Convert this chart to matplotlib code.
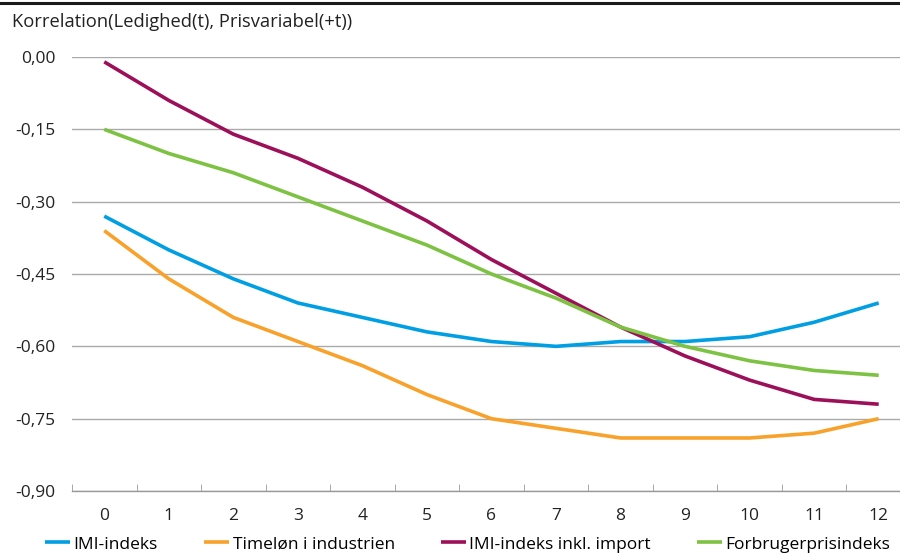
import matplotlib.pyplot as plt
from matplotlib.lines import Line2D

# Lag (kvartaler)
lags = list(range(13))

imi = [-0.33, -0.40, -0.46, -0.51, -0.54, -0.57, -0.59, -0.60, -0.59, -0.59, -0.58, -0.55, -0.51]
timeloen = [-0.36, -0.46, -0.54, -0.59, -0.64, -0.70, -0.75, -0.77, -0.79, -0.79, -0.79, -0.78, -0.75]
imi_import = [-0.01, -0.09, -0.16, -0.21, -0.27, -0.34, -0.42, -0.49, -0.56, -0.62, -0.67, -0.71, -0.72]
fpi = [-0.15, -0.20, -0.24, -0.29, -0.34, -0.39, -0.45, -0.50, -0.56, -0.60, -0.63, -0.65, -0.66]

labels = ['IMI-indeks', 'Timeløn i industrien', 'IMI-indeks inkl. import', 'Forbrugerprisindeks']
colors = ['#009fe3', '#f8a12b', '#9c1059', '#7dc242']
yticks = [0.0, -0.15, -0.30, -0.45, -0.60, -0.75, -0.90]

plt.rcParams['font.family'] = ['Open Sans', 'DejaVu Sans']
fs = 12.5

fig = plt.figure(figsize=(9.0, 5.59), dpi=100)
ax = fig.add_axes([0.08, 0.1216, 0.92, 0.7764])

for ys, c, lab in zip([imi, timeloen, imi_import, fpi], colors, labels):
    ax.plot(lags, ys, color=c, lw=2.6, label=lab, solid_capstyle='butt')

ax.set_xlim(-0.5, 12.33)
ax.set_ylim(-0.90, 0.0)
ax.set_yticks(yticks)
ax.set_yticklabels([f'{v:.2f}'.replace('.', ',') for v in yticks])
ax.set_xticks(lags)
ax.set_xticks([x + 0.5 for x in range(-1, 12)], minor=True)
ax.tick_params(axis='y', length=0, pad=12, labelsize=fs, colors='#222222')
ax.tick_params(axis='x', which='major', length=0, pad=12, labelsize=fs, colors='#222222')
ax.tick_params(axis='x', which='minor', direction='in', length=5, color='#999999')
ax.grid(axis='y', color='#aaaaaa', lw=1.0)
ax.set_axisbelow(True)
for s in ['top', 'right', 'left']:
    ax.spines[s].set_visible(False)
ax.spines['bottom'].set_color('#999999')
ax.spines['bottom'].set_linewidth(1.0)
ax.spines['bottom'].set_zorder(0)

fig.text(0.013, 0.961, 'Korrelation(Ledighed(t), Prisvariabel(+t))',
         fontsize=13.2, color='#222222', va='center', ha='left')
fig.add_artist(Line2D([0, 1], [0.995, 0.995], color='#1a1a1a', lw=2.2,
                      transform=fig.transFigure))

fig.legend(loc='center left', bbox_to_anchor=(0.05, 0.026), ncol=4, frameon=False,
           handlelength=1.45, handletextpad=0.2, columnspacing=2.65, fontsize=fs,
           borderaxespad=0, borderpad=0)

fig.savefig('out.png', dpi=100)
